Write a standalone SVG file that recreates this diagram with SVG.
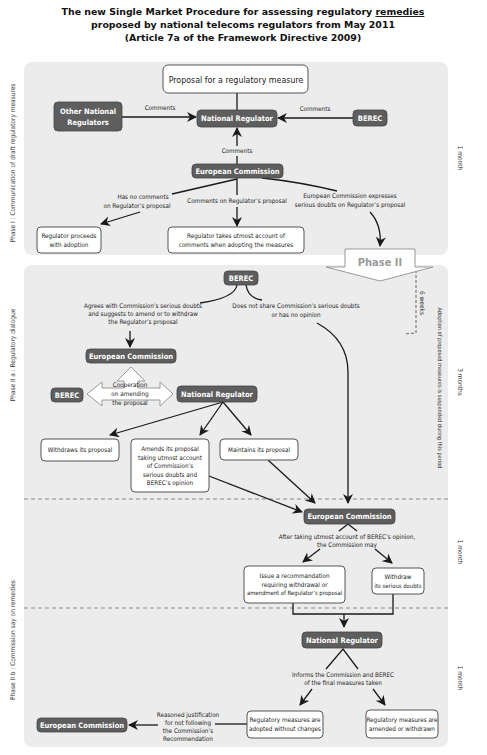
<svg xmlns="http://www.w3.org/2000/svg" width="487" height="755" viewBox="0 0 487 755">
<style>
.title{font-family:"DejaVu Sans",Verdana,sans-serif;font-weight:bold;font-size:9.4px;fill:#111;text-anchor:middle}
.panel{fill:#ececec}
.dark rect{fill:#5e5e5e;stroke:#444;stroke-width:0.8}
.dark text{font-family:"DejaVu Sans Condensed","Liberation Sans Narrow","Liberation Sans",sans-serif;font-weight:bold;font-size:7.5px;fill:#fff;text-anchor:middle}
.box rect{fill:#fff;stroke:#555;stroke-width:1}
.box text,.lbl{font-family:"DejaVu Sans Condensed","Liberation Sans Narrow","Liberation Sans",sans-serif;font-size:6.3px;fill:#222;text-anchor:middle}
.side{font-family:"DejaVu Sans Condensed","Liberation Sans Narrow","Liberation Sans",sans-serif;font-size:6.5px;fill:#333;text-anchor:middle}
.con path{fill:none;stroke:#1a1a1a;stroke-width:1.3}
.arr{marker-end:url(#ah)}
.sep{stroke:#888;stroke-width:1;stroke-dasharray:4,3;fill:none}
</style>
<defs>
<marker id="ah" markerUnits="userSpaceOnUse" markerWidth="11" markerHeight="11" refX="9" refY="5" orient="auto">
<path d="M0,0 L10,5 L0,10 L3,5 z" fill="#1a1a1a"/>
</marker>
</defs>

<g id="title">
<text class="title" x="243" y="15">The new Single Market Procedure for assessing regulatory <tspan text-decoration="underline">remedies</tspan></text>
<text class="title" x="243" y="28">proposed by national telecoms regulators from May 2011</text>
<text class="title" x="243" y="41">(Article 7a of the Framework Directive 2009)</text>
</g>

<g id="panels">
<rect class="panel" x="24" y="62" width="424" height="193" rx="8"/>
<rect class="panel" x="24" y="265" width="424" height="482" rx="8"/>
<path class="sep" d="M24,499 L448,499"/>
<path class="sep" d="M24,608 L448,608"/>
</g>

<g id="side-labels">
<text class="side" transform="translate(15,163) rotate(-90)">Phase I : Communication of draft regulatory measures</text>
<text class="side" transform="translate(15,355) rotate(-90)">Phase II a : Regulatory dialogue</text>
<text class="side" transform="translate(15,640) rotate(-90)">Phase II b : Commission say on remedies</text>
<text class="side" transform="translate(458,158) rotate(90)">1 month</text>
<text class="side" transform="translate(458,382) rotate(90)">3 months</text>
<text class="side" transform="translate(458,552) rotate(90)">1 month</text>
<text class="side" transform="translate(458,678) rotate(90)">1 month</text>
<text class="side" transform="translate(438,388) rotate(90)" style="font-size:5.6px">Adoption of proposed measures is suspended during this period</text>
<text class="side" transform="translate(420,303) rotate(90)">6 weeks</text>
<path d="M416,270 L416,333 L404,334" fill="none" stroke="#555" stroke-width="0.9" stroke-dasharray="3,2"/>
</g>

<g id="phase2-arrow">
<polygon points="345,249 415,249 415,267 433,267 380,281 326,267 345,267" fill="#fff" stroke="#999" stroke-width="1"/>
<text x="380" y="266" font-family="DejaVu Sans Condensed,Liberation Sans,sans-serif" font-weight="bold" font-size="11px" fill="#9a9a9a" text-anchor="middle">Phase II</text>
</g>

<g id="connectors" class="con">
<path d="M237,93 L237,110"/>
<path class="arr" d="M122,117 L196,117"/>
<path class="arr" d="M353,118 L278,118"/>
<path d="M237,164 L237,156"/>
<path class="arr" d="M237,146 L237,128"/>
<path d="M237,179 L172,194"/>
<path class="arr" d="M140,212 L101,224"/>
<path d="M237,178 L237,195"/>
<path class="arr" d="M237,207 L237,226"/>
<path d="M262,178 Q300,182 337,191"/>
<path class="arr" d="M370,212 Q382,225 380,246"/>
<path d="M237,285 Q235,298 200,303"/>
<path d="M246,285 Q248,298 262,300"/>
<path class="arr" d="M317,323 Q348,340 348,372 L348,503"/>
<path class="arr" d="M130,331 L130,347"/>
<path class="arr" d="M223,402 L110,435"/>
<path class="arr" d="M223,402 L200,435"/>
<path class="arr" d="M223,402 L251,435"/>
<path class="arr" d="M209,476 L302,512"/>
<path class="arr" d="M268,460 L315,503"/>
<path d="M339,531 L348,524 L357,531"/>
<path class="arr" d="M320,549 L303,562"/>
<path class="arr" d="M375,549 L392,563"/>
<path d="M293,603 L293,614 L393,614 L393,594"/>
<path class="arr" d="M344,614 L344,627"/>
<path d="M326,669 L343,649 L358,669"/>
<path class="arr" d="M312,689 L300,705"/>
<path class="arr" d="M373,689 L385,705"/>
<path d="M247,724 L215,724"/>
<path class="arr" d="M158,725 L129,725"/>
<polygon points="87,394 102,382 102,388 124,388 124,381 117,381 131,367 145,381 138,381 138,388 160,388 160,382 173,394 160,406 160,400 102,400 102,406" fill="#fff" stroke="#999" stroke-width="1"/>
</g>

<g id="connector-labels">
<text class="lbl" x="160" y="110">Comments</text>
<text class="lbl" x="315" y="111">Comments</text>
<text class="lbl" x="237" y="153">Comments</text>
<text class="lbl" x="143" y="199">Has no comments</text>
<text class="lbl" x="137" y="208">on Regulator’s proposal</text>
<text class="lbl" x="237" y="203">Comments on Regulator’s proposal</text>
<text class="lbl" x="350" y="198">European Commission expresses</text>
<text class="lbl" x="350" y="207">serious doubts on Regulator’s proposal</text>
<text class="lbl" x="143" y="308">Agrees with Commission’s serious doubts</text>
<text class="lbl" x="143" y="316">and suggests to amend or to withdraw</text>
<text class="lbl" x="143" y="324">the Regulator’s proposal</text>
<text class="lbl" x="296" y="308">Does not share Commission’s serious doubts</text>
<text class="lbl" x="296" y="317">or has no opinion</text>
<text class="lbl" x="130" y="387">Cooperation</text>
<text class="lbl" x="130" y="396">on amending</text>
<text class="lbl" x="130" y="405">the proposal</text>
<text class="lbl" x="347" y="539">After taking utmost account of BEREC’s opinion,</text>
<text class="lbl" x="347" y="547">the Commission may</text>
<text class="lbl" x="343" y="677">Informs the Commission and BEREC</text>
<text class="lbl" x="343" y="685">of the final measures taken</text>
<text class="lbl" x="188" y="717">Reasoned justification</text>
<text class="lbl" x="188" y="725">for not following</text>
<text class="lbl" x="188" y="733">the Commission’s</text>
<text class="lbl" x="188" y="741">Recommendation</text>
</g>

<g id="proposal" class="box"><rect x="163" y="65" width="145" height="28" rx="5"/><text x="236" y="82.5" style="font-size:8.8px">Proposal for a regulatory measure</text></g>
<g id="other-nr" class="dark"><rect x="54" y="102" width="68" height="29" rx="4"/><text x="88" y="114">Other National</text><text x="88" y="125">Regulators</text></g>
<g id="nr1" class="dark"><rect x="197" y="110" width="80" height="17" rx="4"/><text x="237" y="121">National Regulator</text></g>
<g id="berec1" class="dark"><rect x="353" y="110" width="34" height="16" rx="4"/><text x="370" y="121">BEREC</text></g>
<g id="ec1" class="dark"><rect x="192" y="164" width="91" height="14" rx="4"/><text x="237.5" y="173.7">European Commission</text></g>
<g id="proceeds" class="box"><rect x="37" y="227" width="64" height="26" rx="4"/><text x="69" y="238">Regulator proceeds</text><text x="69" y="247">with adoption</text></g>
<g id="utmost" class="box"><rect x="168" y="227" width="136" height="26" rx="4"/><text x="236" y="238">Regulator takes utmost account of</text><text x="236" y="247">comments when adopting the measures</text></g>

<g id="berec2" class="dark"><rect x="224" y="271" width="34" height="14" rx="4"/><text x="241" y="280.7">BEREC</text></g>
<g id="ec2" class="dark"><rect x="86" y="349" width="90" height="14" rx="4"/><text x="131" y="358.7">European Commission</text></g>
<g id="berec3" class="dark"><rect x="51" y="388" width="32" height="14" rx="4"/><text x="67" y="397.7">BEREC</text></g>
<g id="nr2" class="dark"><rect x="177" y="386" width="80" height="16" rx="4"/><text x="217" y="396.7">National Regulator</text></g>
<g id="withdraws" class="box"><rect x="41" y="439" width="78" height="22" rx="4"/><text x="80" y="452">Withdraws its proposal</text></g>
<g id="amends" class="box"><rect x="131" y="439" width="78" height="53" rx="4"/><text x="170" y="451">Amends its proposal</text><text x="170" y="459.5">taking utmost account</text><text x="170" y="468">of Commission’s</text><text x="170" y="476.5">serious doubts and</text><text x="170" y="485">BEREC’s opinion</text></g>
<g id="maintains" class="box"><rect x="220" y="439" width="78" height="21" rx="4"/><text x="259" y="452">Maintains its proposal</text></g>

<g id="ec3" class="dark"><rect x="304" y="509" width="91" height="15" rx="4"/><text x="349.5" y="519">European Commission</text></g>
<g id="recommend" class="box"><rect x="244" y="566" width="101" height="37" rx="4"/><text x="294.5" y="578">Issue a recommandation</text><text x="294.5" y="586.5">requiring withdrawal or</text><text x="294.5" y="595" style="font-size:5.9px">amendment of Regulator’s proposal</text></g>
<g id="withdraw-doubts" class="box"><rect x="372" y="568" width="52" height="26" rx="4"/><text x="398" y="579">Withdraw</text><text x="398" y="588" style="font-size:5.9px">its serious doubts</text></g>

<g id="nr3" class="dark"><rect x="302" y="632" width="80" height="16" rx="4"/><text x="342" y="642.7">National Regulator</text></g>
<g id="adopted" class="box"><rect x="247" y="711" width="76" height="27" rx="4"/><text x="285" y="722">Regulatory measures are</text><text x="285" y="731">adopted without changes</text></g>
<g id="amended" class="box"><rect x="366" y="710" width="72" height="28" rx="4"/><text x="402" y="722">Regulatory measures are</text><text x="402" y="731">amended or withdrawn</text></g>
<g id="ec4" class="dark"><rect x="37" y="718" width="90" height="14" rx="4"/><text x="82" y="727.7">European Commission</text></g>
</svg>
